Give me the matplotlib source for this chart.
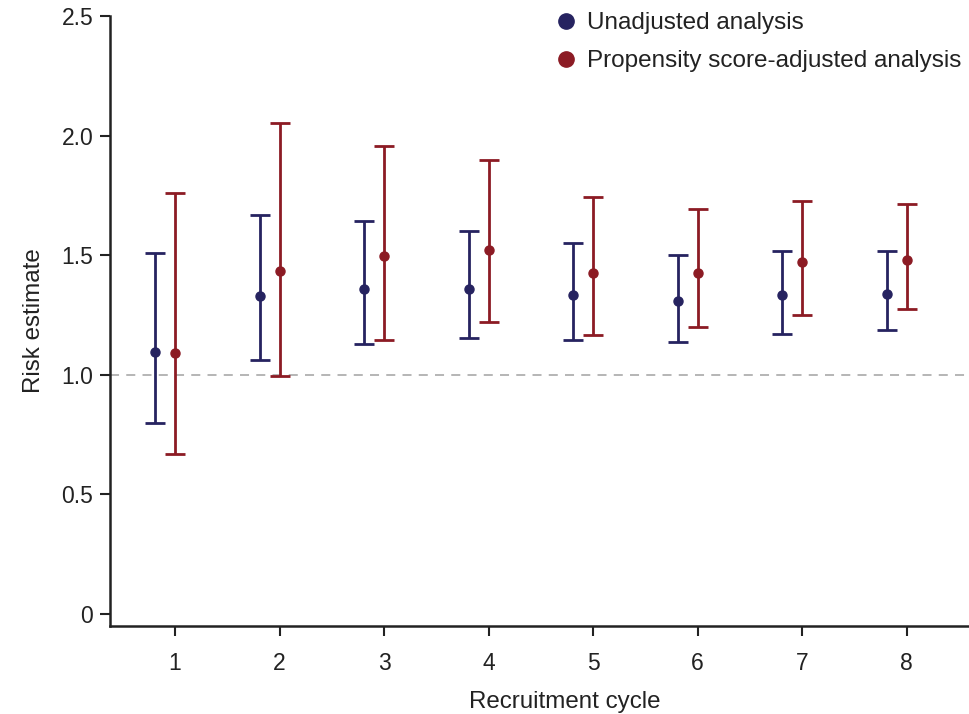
import matplotlib
matplotlib.use("Agg")
import matplotlib.pyplot as plt
from matplotlib.lines import Line2D
import numpy as np

plt.rcParams["font.family"] = ["Liberation Sans", "DejaVu Sans"]

cycles = [1, 2, 3, 4, 5, 6, 7, 8]
unadj_est = [1.095, 1.33, 1.36, 1.36, 1.335, 1.31, 1.335, 1.34]
unadj_lo = [0.80, 1.062, 1.127, 1.152, 1.146, 1.138, 1.171, 1.187]
unadj_hi = [1.508, 1.668, 1.643, 1.602, 1.551, 1.502, 1.518, 1.519]
adj_est = [1.09, 1.434, 1.497, 1.522, 1.426, 1.426, 1.472, 1.478]
adj_lo = [0.67, 0.995, 1.145, 1.221, 1.166, 1.2, 1.25, 1.275]
adj_hi = [1.76, 2.053, 1.957, 1.898, 1.743, 1.695, 1.727, 1.714]

navy = "#262360"
red = "#8c1b24"
offset = 0.19
fs_tick = 16.5
fs_label = 17.4

fig = plt.figure(figsize=(9.7, 7.14), dpi=100)
ax = fig.add_axes([0.1134, 0.1232, 0.886, 0.8544])

x = np.array(cycles, dtype=float)
ax.axhline(1.0, color="#b0b0b0", linestyle=(0, (5, 4)), linewidth=1.3, zorder=1)

for xs, est, lo, hi, col in [
    (x - offset, unadj_est, unadj_lo, unadj_hi, navy),
    (x, adj_est, adj_lo, adj_hi, red),
]:
    est = np.array(est); lo = np.array(lo); hi = np.array(hi)
    ax.errorbar(xs, est, yerr=[est - lo, hi - est], fmt="o", color=col,
                ecolor=col, elinewidth=2, capsize=7.5, capthick=2,
                markersize=6.5, zorder=3)

ax.set_xlim(0.378, 8.6)
ax.set_ylim(-0.05, 2.5)
ax.set_xticks(cycles)
ax.set_yticks([0, 0.5, 1.0, 1.5, 2.0, 2.5])
ax.set_yticklabels(["0", "0.5", "1.0", "1.5", "2.0", "2.5"])
ax.tick_params(axis="both", labelsize=fs_tick, length=7, width=1.5,
               color="#222222", labelcolor="#222222")
ax.tick_params(axis="x", pad=12)
ax.tick_params(axis="y", pad=5)
for s in ["top", "right"]:
    ax.spines[s].set_visible(False)
for s in ["left", "bottom"]:
    ax.spines[s].set_linewidth(1.8)
    ax.spines[s].set_color("#222222")

ax.set_xlabel("Recruitment cycle", fontsize=fs_label, color="#222222", labelpad=9)
ax.xaxis.set_label_coords(0.529, -0.106)
ax.set_ylabel("Risk estimate", fontsize=fs_label, color="#222222", labelpad=12)

handles = [
    Line2D([], [], marker="o", linestyle="none", color=navy, markersize=11),
    Line2D([], [], marker="o", linestyle="none", color=red, markersize=11),
]
ax.legend(handles, ["Unadjusted analysis", "Propensity score-adjusted analysis"],
          loc="upper right", bbox_to_anchor=(1.016, 1.042), frameon=False,
          fontsize=17.5, handletextpad=0.25, labelspacing=0.65,
          handlelength=1.2, labelcolor="#222222")

fig.savefig("out.png", dpi=100)
